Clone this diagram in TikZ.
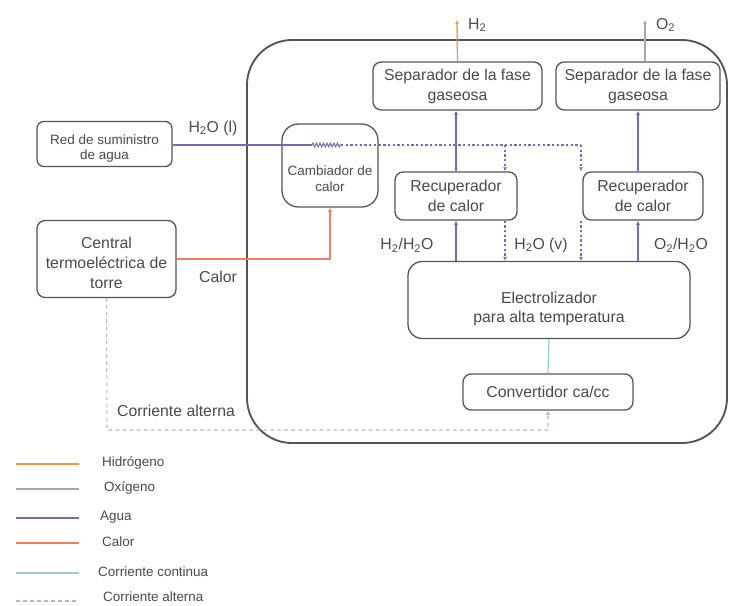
\documentclass[tikz,border=0pt]{standalone}
\usepackage{fontspec}
\setmainfont{Liberation Sans}
\usepackage{xcolor}
\usetikzlibrary{arrows.meta,decorations.pathmorphing}
\definecolor{txtgray}{HTML}{4A4A4A}
\definecolor{boxgray}{HTML}{555555}
\definecolor{hidro}{HTML}{E89A48}
\definecolor{oxi}{HTML}{A8A8A8}
\definecolor{agua}{HTML}{6C70B0}
\definecolor{calor}{HTML}{F07E66}
\definecolor{continua}{HTML}{9CCCC4}
\definecolor{alterna}{HTML}{A8BCCC}
\tikzset{
box/.style = {rectangle, rounded corners=7pt, draw=boxgray, line width=1.1pt, align=center, text=txtgray, font=\fontsize{13.5}{17}\selectfont, minimum width = #1},
box/.default = 4cm, % width of the block
lbl/.style = {text=txtgray, font=\fontsize{13.5}{16}\selectfont},
leg/.style = {text=txtgray, anchor=west, font=\fontsize{11.5}{13}\selectfont},
tip/.style = {-{Latex[length=3.5pt,width=3.5pt]}},
}

\begin{document}
\begin{tikzpicture}[x=0.03cm, y=-0.03cm]
    \useasboundingbox (0,0) rectangle (729,605);
    % outer plant
    \draw[draw=boxgray, line width=1.6pt, rounded corners=1.35cm] (247,40) rectangle (727,443);

    % blocks
    \node[box=4.05cm, minimum height=1.2cm, rounded corners=6pt, font=\fontsize{11.5}{13.5}\selectfont] (red) at (104.5,144) {\rule{0pt}{16pt}Red de suministro\\de agua};
    \node[box=4.17cm, minimum height=2.31cm] (central) at (106.5,259) {\rule{0pt}{17pt}Central\\termoeléctrica de\\torre};
    \node[box=2.88cm, minimum height=2.49cm, rounded corners=14pt, font=\fontsize{11.5}{13.5}\selectfont] (camb) at (330,165.5) {\rule{0pt}{31pt}Cambiador de\\calor};
    \node[box=5.07cm, minimum height=1.44cm] (sepH) at (457.5,86) {Separador de la fase\\gaseosa};
    \node[box=4.92cm, minimum height=1.44cm] (sepO) at (638,86) {Separador de la fase\\gaseosa};
    \node[box=3.66cm, minimum height=1.44cm] (recL) at (456,196) {Recuperador\\de calor};
    \node[box=3.6cm, minimum height=1.44cm] (recR) at (643,196) {Recuperador\\de calor};
    \node[box=8.46cm, minimum height=2.31cm, rounded corners=12pt] (elec) at (549,300) {\rule{0pt}{25pt}Electrolizador\\para alta temperatura};
    \node[box=5.1cm, minimum height=1.08cm] (conv) at (548,392) {Convertidor ca/cc};

    % free ends and junctions
    \coordinate (h2top) at (457,20);
    \coordinate (o2top) at (645,20);
    \coordinate (zzA) at (312,145);
    \coordinate (zzB) at (341,145);
    \coordinate (vapL) at (505,145);
    \coordinate (vapR) at (581,145);
    \coordinate (caCorner) at (107,430);

    % labels
    \node[lbl, anchor=west] (h2lbl) at (464,25) {H\textsubscript{2}};
    \node[lbl, anchor=west] (o2lbl) at (652,25) {O\textsubscript{2}};
    \node[lbl] (h2olq) at (213,128) {H\textsubscript{2}O (l)};
    \node[lbl] (calorlbl) at (218,277) {Calor};
    \node[lbl] (h2mix) at (407,245) {H\textsubscript{2}/H\textsubscript{2}O};
    \node[lbl] (h2ov) at (541,245) {H\textsubscript{2}O (v)};
    \node[lbl] (o2mix) at (681,245) {O\textsubscript{2}/H\textsubscript{2}O};
    \node[lbl] (calbl) at (176,411) {Corriente alterna};

    % products
    \draw[tip, hidro, line width=1.1pt] (sepH.north) -- (h2top);
    \draw[tip, oxi, line width=0.9pt] (sepO.north -| o2top) -- (o2top);

    % water, liquid
    \draw[agua, line width=0.9pt] (red.east |- zzA) -- (zzA);
    \draw[agua, line width=0.9pt, decorate, decoration={zigzag, segment length=3pt, amplitude=1.6pt}] (zzA) -- (zzB);
    % water, vapour
    \draw[agua, line width=0.9pt, dash pattern=on 2pt off 2pt] (zzB) -- (vapR);
    \draw[tip, agua, line width=0.9pt, dash pattern=on 2pt off 2pt] (vapL) -- (vapL |- recL.north);
    \draw[tip, agua, line width=0.9pt, dash pattern=on 2pt off 2pt] (vapL |- recL.south) -- (vapL |- elec.north);
    \draw[tip, agua, line width=0.9pt, dash pattern=on 2pt off 2pt] (vapR) -- (vapR |- recR.north);
    \draw[tip, agua, line width=0.9pt, dash pattern=on 2pt off 2pt] (vapR |- recR.south) -- (vapR |- elec.north);
    % gas mixtures
    \draw[tip, agua, line width=0.9pt] (elec.north -| recL) -- (recL.south);
    \draw[tip, agua, line width=0.9pt] (recL.north) -- (recL.north |- sepH.south);
    \draw[tip, agua, line width=0.9pt] (elec.north -| sepO) -- (recR.south -| sepO);
    \draw[tip, agua, line width=0.9pt] (recR.north -| sepO) -- (sepO.south);

    % heat
    \draw[tip, calor, line width=1pt] (central.east) -| (camb.south);

    % electricity
    \draw[tip, alterna, line width=0.9pt, dash pattern=on 3pt off 3pt] (central.south) -- (caCorner) -| (conv.south);
    \draw[continua, line width=1pt] (conv.north) -- (elec.south);

    % legend
    \draw[hidro, line width=1pt] (16,464) -- (79,464);
    \node[leg] (lgH) at (98,463) {Hidrógeno};
    \draw[oxi, line width=1pt] (16,489) -- (79,489);
    \node[leg] (lgO) at (100,488) {Oxígeno};
    \draw[agua, line width=1pt] (16,518) -- (79,518);
    \node[leg] (lgA) at (96,517) {Agua};
    \draw[calor, line width=1pt] (16,543) -- (79,543);
    \node[leg] (lgC) at (98,542) {Calor};
    \draw[continua, line width=1pt] (16,573) -- (79,573);
    \node[leg] (lgCC) at (94,572) {Corriente continua};
    \draw[alterna, line width=1pt, dash pattern=on 3pt off 3pt] (16,601) -- (79,601);
    \node[leg] (lgCA) at (99,597) {Corriente alterna};
\end{tikzpicture}
\end{document}
